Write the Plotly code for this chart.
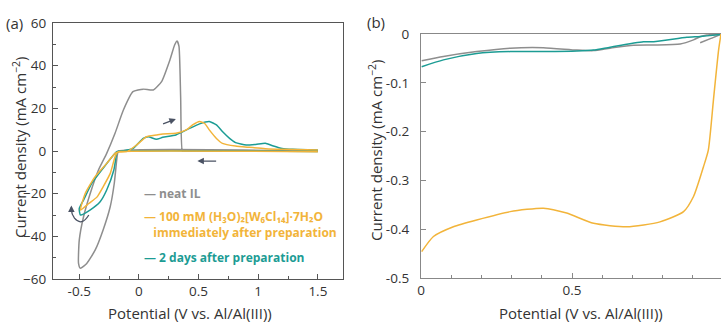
import plotly.graph_objects as go

# ---------------- data: panel (a) ----------------
neat_x = [1.5, -0.17, -0.178, -0.186, -0.206, -0.24, -0.30, -0.367, -0.437, -0.49, -0.506, -0.50, -0.464,
          -0.408, -0.339, -0.27, -0.20, -0.13, -0.05, 0.036, 0.12, 0.19, 0.26, 0.30, 0.32, 0.336, 0.35, 0.364,
          0.38, 1.5]
neat_y = [0.0, 0.0, -1.0, -4.2, -15.0, -26.0, -37.0, -46.5, -52.7, -55.0, -52.7, -41.8, -30.8,
          -19.9, -8.9, -1.1, 8.3, 19.2, 27.8, 29.0, 28.6, 32.5, 42.7, 49.8, 51.6, 49.0, 25.0, 0.0,
          0.0, 0.0]

fresh_x = [1.5, -0.17, -0.18, -0.20, -0.24, -0.30, -0.35, -0.42, -0.49, -0.45, -0.367, -0.27, -0.20, -0.17,
           -0.10, -0.02, 0.064, 0.147, 0.20, 0.31, 0.397, 0.45, 0.508, 0.55, 0.59, 0.65, 0.70, 0.81,
           0.925, 1.06, 1.2, 1.5]
fresh_y = [-0.3, -0.3, -0.6, -2.7, -10.5, -16.8, -21.5, -24.6, -27.7, -19.9, -12.0, -5.8, -1.1, -0.5,
           -0.3, 2.8, 6.7, 7.5, 8.0, 8.3, 9.9, 12.2, 13.8, 13.0, 9.9, 5.9, 3.6, 2.3,
           1.7, 1.1, 0.8, 0.5]

aged_x = [1.5, -0.17, -0.18, -0.186, -0.21, -0.27, -0.325, -0.41, -0.49, -0.50, -0.464, -0.395, -0.30, -0.20,
          -0.186, -0.13, -0.048, 0.036, 0.078, 0.147, 0.20, 0.31, 0.425, 0.508, 0.59, 0.65, 0.70,
          0.76, 0.81, 0.90, 0.98, 1.06, 1.12, 1.2, 1.29, 1.5]
aged_y = [-0.2, -0.2, -0.5, -1.1, -8.9, -18.3, -23.8, -27.7, -30.0, -27.0, -23.0, -15.2, -8.1, -1.1,
          -0.3, 0.1, 1.2, 5.9, 6.7, 5.5, 6.4, 7.5, 10.6, 12.7, 13.8, 12.2, 9.1,
          5.9, 3.9, 2.8, 3.1, 3.6, 2.5, 1.2, 0.8, 0.5]

# ---------------- data: panel (b) ----------------
neat_bx = [0.002, 0.074, 0.184, 0.295, 0.405, 0.516, 0.571, 0.626, 0.703, 0.77, 0.858, 0.902,
           0.924, 0.946, 0.97, 0.995, 0.96, 0.924]
neat_by = [-0.055, -0.046, -0.036, -0.029, -0.028, -0.033, -0.034, -0.029, -0.023, -0.0225, -0.0205, -0.012,
           -0.0055, -0.002, -0.001, 0.0, -0.009, -0.018]

fresh_bx = [0.002, 0.041, 0.107, 0.184, 0.295, 0.405, 0.482, 0.571, 0.681, 0.791, 0.869, 0.902,
            0.935, 0.951, 0.968, 0.985, 0.993]
fresh_by = [-0.446, -0.415, -0.395, -0.381, -0.364, -0.357, -0.367, -0.388, -0.395, -0.385, -0.364, -0.333,
            -0.272, -0.238, -0.135, -0.033, 0.0]

aged_bx = [0.002, 0.074, 0.184, 0.295, 0.405, 0.516, 0.571, 0.626, 0.736, 0.77, 0.88, 0.924, 0.99]
aged_by = [-0.067, -0.053, -0.040, -0.036, -0.036, -0.035, -0.033, -0.027, -0.016, -0.0157, -0.0068, -0.005, -0.001]

a_xticks = [-0.5, 0, 0.5, 1, 1.5]
a_xticklabels = ["-0.5", "0", "0.5", "1", "1.5"]
a_yticks = [-60, -40, -20, 0, 20, 40, 60]
b_xticks = [0, 0.5]
b_yticks = [-0.5, -0.4, -0.3, -0.2, -0.1, 0]
b_yticklabels = ["-0.5", "-0.4", "-0.3", "-0.2", "-0.1", "0"]

GRAY = "#8e8e8e"
YELLOW = "#F2B43A"
TEAL = "#1C9C94"
ARROW = "#4a5263"
FONT = "Open Sans"

fig = go.Figure()
lw = 1.5
fig.add_trace(go.Scatter(x=neat_x, y=neat_y, mode="lines", line=dict(color=GRAY, width=lw, shape="spline", smoothing=0.5), xaxis="x", yaxis="y"))
fig.add_trace(go.Scatter(x=aged_x, y=aged_y, mode="lines", line=dict(color=TEAL, width=lw, shape="spline", smoothing=0.5), xaxis="x", yaxis="y"))
fig.add_trace(go.Scatter(x=fresh_x, y=fresh_y, mode="lines", line=dict(color=YELLOW, width=lw, shape="spline", smoothing=0.5), xaxis="x", yaxis="y"))

fig.add_trace(go.Scatter(x=neat_bx, y=neat_by, mode="lines", line=dict(color=GRAY, width=lw, shape="spline", smoothing=0.6), xaxis="x2", yaxis="y2"))
fig.add_trace(go.Scatter(x=aged_bx, y=aged_by, mode="lines", line=dict(color=TEAL, width=lw, shape="spline", smoothing=0.6), xaxis="x2", yaxis="y2"))
fig.add_trace(go.Scatter(x=fresh_bx, y=fresh_by, mode="lines", line=dict(color=YELLOW, width=lw, shape="spline", smoothing=0.6), xaxis="x2", yaxis="y2"))

axis_common = dict(showgrid=False, zeroline=False, ticks="inside", showline=True, linewidth=1.3,
                   tickfont=dict(family=FONT, size=13.5, color="#333"), ticklen=5, tickwidth=1)

fig.update_layout(
    width=721, height=323,
    margin=dict(l=53, r=0, t=23, b=44),
    paper_bgcolor="white", plot_bgcolor="white",
    showlegend=False,
    xaxis=dict(domain=[0, 0.434], range=[-0.72, 1.71], tickvals=a_xticks, ticktext=a_xticklabels,
               mirror=True, linecolor="#555", tickcolor="#555",
               minor=dict(dtick=0.25, tick0=0, ticks="inside", ticklen=3, tickcolor="#555"),
               **axis_common),
    yaxis=dict(domain=[0, 1], range=[-60, 60], tickvals=a_yticks, mirror=True, linecolor="#555", tickcolor="#555",
               minor=dict(dtick=10, tick0=0, ticks="inside", ticklen=3, tickcolor="#555"),
               ticklabelstandoff=3, **axis_common),
    xaxis2=dict(domain=[0.551, 1], range=[0, 0.993], tickvals=b_xticks, anchor="y2", mirror=True,
                linecolor="#888", tickcolor="#888",
                minor=dict(dtick=0.1, tick0=0, ticks="inside", ticklen=3, tickcolor="#888"),
                **axis_common),
    yaxis2=dict(domain=[0.004, 0.957], range=[-0.5, 0], tickvals=b_yticks, ticktext=b_yticklabels, anchor="x2",
                linecolor="#888", tickcolor="#888", ticklabelstandoff=8, **axis_common),
)


def px_x(v):
    return (v - 53) / 668


def px_y(v):
    return (279 - v) / 256


title_font = dict(family=FONT, size=15, color="#333")
ann = [
    dict(text="Potential (V vs. Al/Al(III))", x=190, y=313),
    dict(text="Potential (V vs. Al/Al(III))", x=581, y=313),
    dict(text="Current density (mA cm<sup>−2</sup>)", x=19, y=148, textangle=-90),
    dict(text="Current density (mA cm<sup>−2</sup>)", x=375, y=151, textangle=-90),
    dict(text="(a)", x=14, y=23),
    dict(text="(b)", x=376, y=22),
]
for a in ann:
    fig.add_annotation(text=a["text"], xref="paper", yref="paper", x=px_x(a["x"]), y=px_y(a["y"]),
                       showarrow=False, xanchor="center", yanchor="middle",
                       textangle=a.get("textangle", 0), font=title_font)

leg_font = 12
legend_items = [
    ("— neat IL", GRAY, 142, 193),
    ("— 100 mM (H₃O)₂[W₆Cl₁₄]·7H₂O<br>   immediately after preparation", YELLOW, 142, 224.5),
    ("— 2 days after preparation", TEAL, 142, 257),
]
for txt, col, px, py in legend_items:
    fig.add_annotation(text="<b>" + txt + "</b>", xref="paper", yref="paper",
                       x=px_x(px), y=px_y(py), showarrow=False, align="left",
                       xanchor="left", yanchor="middle",
                       font=dict(family=FONT, size=leg_font, color=col))

# arrows in panel (a)
fig.add_annotation(x=0.31, y=15.0, ax=0.19, ay=12.5, xref="x", yref="y", axref="x", ayref="y",
                   showarrow=True, arrowhead=2, arrowsize=1, arrowwidth=1.3, arrowcolor=ARROW, text="")
fig.add_annotation(x=0.49, y=-4.7, ax=0.66, ay=-4.7, xref="x", yref="y", axref="x", ayref="y",
                   showarrow=True, arrowhead=2, arrowsize=1, arrowwidth=1.3, arrowcolor=ARROW, text="")
fig.add_shape(type="path", path="M -0.42,-30 Q -0.48,-35.5 -0.54,-31.5 Q -0.565,-29.5 -0.566,-27.5",
              xref="x", yref="y", line=dict(color=ARROW, width=1.3))
fig.add_annotation(x=-0.566, y=-25.5, ax=-0.566, ay=-27.8, xref="x", yref="y", axref="x", ayref="y",
                   showarrow=True, arrowhead=2, arrowsize=1, arrowwidth=1.3, arrowcolor=ARROW, text="")

fig.write_html("out.html")
